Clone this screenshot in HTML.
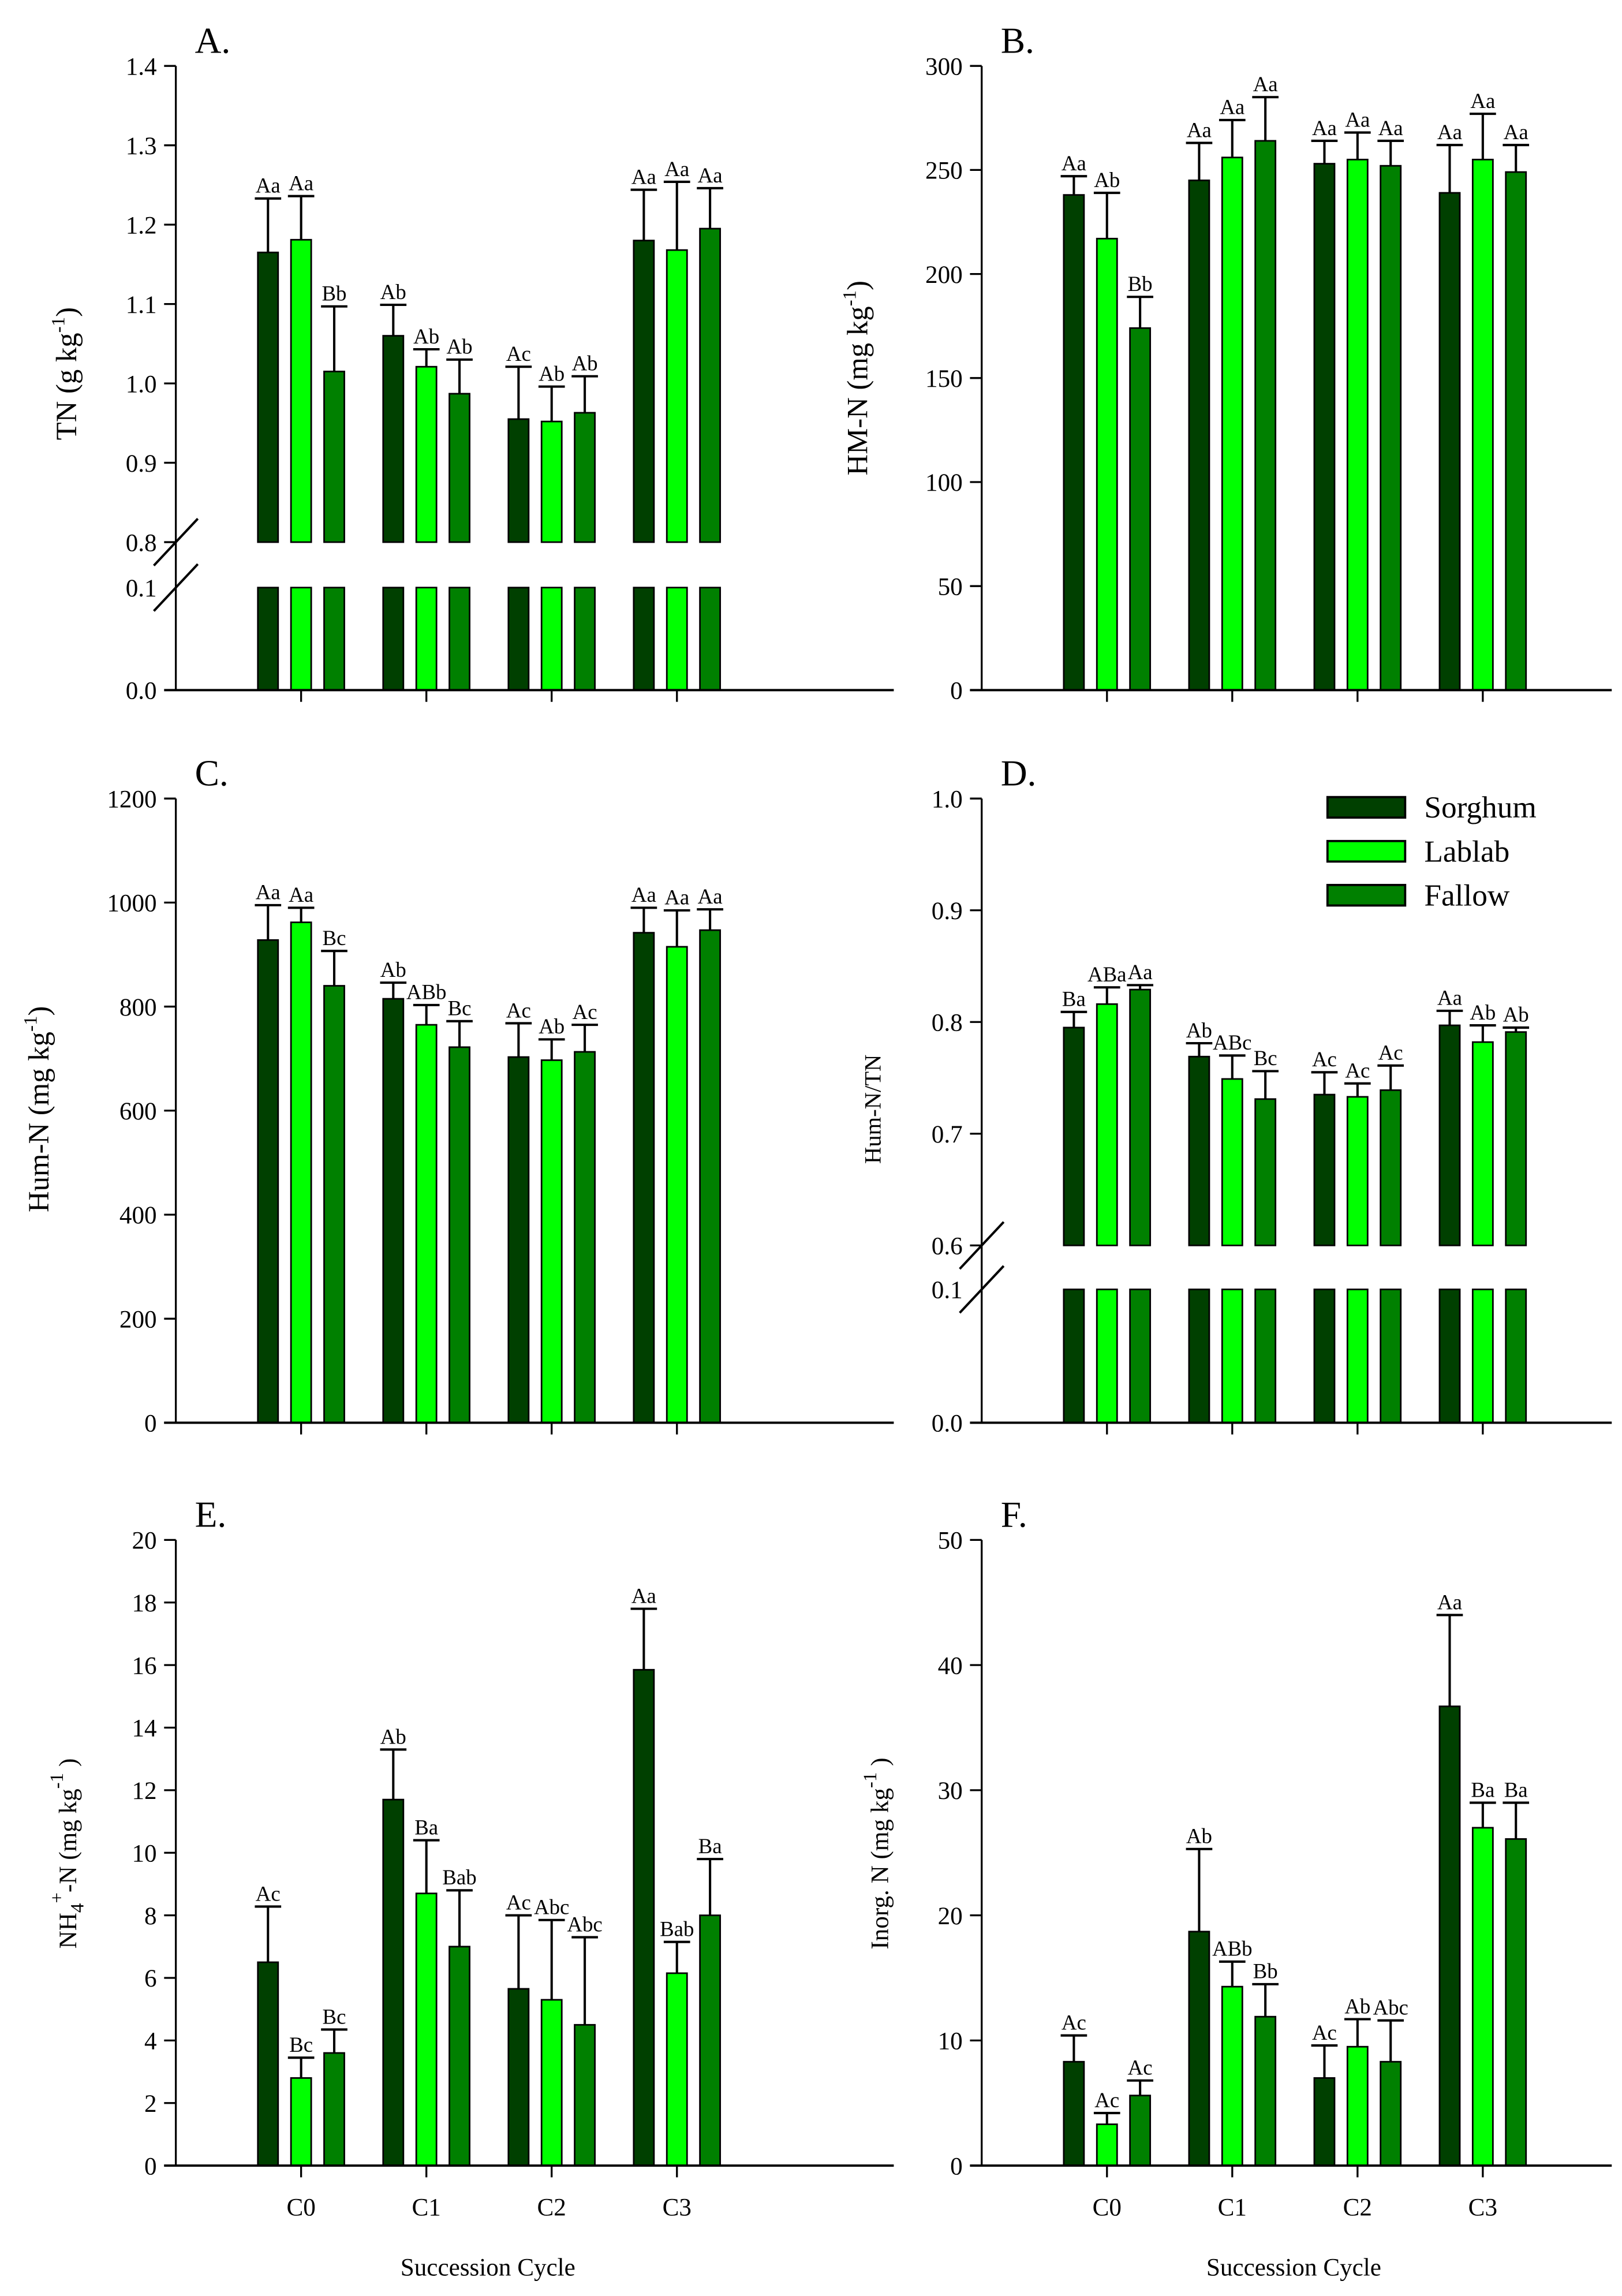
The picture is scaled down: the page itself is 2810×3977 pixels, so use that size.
<!DOCTYPE html>
<html><head><meta charset="utf-8"><style>
html,body{margin:0;padding:0;background:#fff;}
svg{display:block;font-family:"Liberation Serif",serif;}
</style></head><body>
<svg id="fig" width="2810" height="3977" viewBox="0 0 1107 1567" preserveAspectRatio="none" xmlns="http://www.w3.org/2000/svg"></svg>
<script>
const categories = ["C0","C1","C2","C3"];
const seriesNames = ["Sorghum","Lablab","Fallow"];
const colors = ["#004000","#00ff00","#008000"];

const tnVals = [[1.165,1.181,1.015],[1.060,1.021,0.987],[0.955,0.952,0.963],[1.180,1.168,1.195]];
const tnErr  = [[1.233,1.236,1.097],[1.099,1.043,1.030],[1.021,0.996,1.009],[1.244,1.254,1.246]];
const tnLab  = [["Aa","Aa","Bb"],["Ab","Ab","Ab"],["Ac","Ab","Ab"],["Aa","Aa","Aa"]];

const hmVals = [[238,217,174],[245,256,264],[253,255,252],[239,255,249]];
const hmErr  = [[247,239,189],[263,274,285],[264,268,264],[262,277,262]];
const hmLab  = [["Aa","Ab","Bb"],["Aa","Aa","Aa"],["Aa","Aa","Aa"],["Aa","Aa","Aa"]];

const humVals = [[928,962,840],[815,765,722],[703,697,713],[942,915,947]];
const humErr  = [[995,990,907],[846,803,772],[768,737,765],[990,985,987]];
const humLab  = [["Aa","Aa","Bc"],["Ab","ABb","Bc"],["Ac","Ab","Ac"],["Aa","Aa","Aa"]];

const ratVals = [[0.795,0.816,0.829],[0.769,0.749,0.731],[0.735,0.733,0.739],[0.797,0.782,0.791]];
const ratErr  = [[0.809,0.831,0.833],[0.781,0.770,0.756],[0.755,0.745,0.761],[0.810,0.797,0.795]];
const ratLab  = [["Ba","ABa","Aa"],["Ab","ABc","Bc"],["Ac","Ac","Ac"],["Aa","Ab","Ab"]];

const nhVals = [[6.5,2.8,3.6],[11.7,8.7,7.0],[5.65,5.3,4.5],[15.85,6.15,8.0]];
const nhErr  = [[8.28,3.45,4.35],[13.3,10.4,8.8],[8.0,7.85,7.3],[17.8,7.15,9.8]];
const nhLab  = [["Ac","Bc","Bc"],["Ab","Ba","Bab"],["Ac","Abc","Abc"],["Aa","Bab","Ba"]];

const inVals = [[8.3,3.3,5.6],[18.7,14.3,11.9],[7.0,9.5,8.3],[36.7,27.0,26.1]];
const inErr  = [[10.4,4.2,6.8],[25.3,16.3,14.5],[9.6,11.7,11.6],[44.0,29.0,29.0]];
const inLab  = [["Ac","Ac","Ac"],["Ab","ABb","Bb"],["Ac","Ab","Abc"],["Aa","Ba","Ba"]];

const tnTicks = ["0.8","0.9","1.0","1.1","1.2","1.3","1.4"];
const hmTicks = ["0","50","100","150","200","250","300"];
const humTicks = ["0","200","400","600","800","1000","1200"];
const ratTicks = ["0.6","0.7","0.8","0.9","1.0"];
const nhTicks = ["0","2","4","6","8","10","12","14","16","18","20"];
const inTicks = ["0","10","20","30","40","50"];

const NS="http://www.w3.org/2000/svg";
const svg=document.getElementById('fig');
function mk(tag,attrs,parent){const e=document.createElementNS(NS,tag);for(const k in attrs)e.setAttribute(k,attrs[k]);(parent||svg).appendChild(e);return e;}

function panel(cfg){
  const g=mk('g',{});
  
  
  const ax=cfg.ax, bot=cfg.bot;
  // y mapping
  function y(v){
    if(cfg.brk){
      if(v>=cfg.brk.u0) return cfg.brk.yu0-(v-cfg.brk.u0)/(cfg.brk.u1-cfg.brk.u0)*(cfg.brk.yu0-cfg.top);
      return bot-(v/cfg.brk.l1)*(bot-cfg.brk.yl1);
    }
    return bot-(v-cfg.min)/(cfg.max-cfg.min)*(bot-cfg.top);
  }
  const xc=i=>ax+85.5*(i+1);
  const off=[-22.6,0,22.6], bw=13.8;
  // bars
  for(let i=0;i<categories.length;i++){
    for(let s=0;s<3;s++){
      const v=cfg.vals[i][s], x=xc(i)+off[s]-bw/2;
      if(cfg.brk){
        const r1=mk('rect',{x:x,y:cfg.brk.yl1,width:bw,height:bot-cfg.brk.yl1,fill:colors[s],stroke:'#000','stroke-width':1.1},g);
        
        
        const r2=mk('rect',{x:x,y:y(v),width:bw,height:cfg.brk.yu0-y(v),fill:colors[s],stroke:'#000','stroke-width':1.1},g);
        
        
      } else {
        const r=mk('rect',{x:x,y:y(v),width:bw,height:bot-y(v),fill:colors[s],stroke:'#000','stroke-width':1.1},g);
        
        
      }
      const cx=xc(i)+off[s], ye=y(cfg.err[i][s]);
      const eb=mk('path',{d:`M${cx},${y(v)}V${ye}M${cx-9},${ye}H${cx+9}`,stroke:'#000','stroke-width':1.6,fill:'none'},g);
      
      
      const t=mk('text',{x:cx,y:ye-4,'text-anchor':'middle','font-size':14.5},g);
      t.textContent=cfg.labs[i][s];
      
      
    }
  }
  if(cfg.brk){ // white gap
    mk('rect',{x:ax+1,y:cfg.brk.yu0+0.6,width:cfg.right-ax,height:cfg.brk.yl1-cfg.brk.yu0-1.2,fill:'#fff'},g);
  }
  // axes
  const ya=mk('line',{x1:ax,y1:cfg.top,x2:ax,y2:bot,stroke:'#000','stroke-width':1.3},g);
  
  
  const xa=mk('line',{x1:ax-8,y1:bot,x2:cfg.right,y2:bot,stroke:'#000','stroke-width':1.6},g);
  
  
  for(let i=0;i<categories.length;i++){
    mk('line',{x1:xc(i),y1:bot,x2:xc(i),y2:bot+8,stroke:'#000','stroke-width':1.3},g);
    if(cfg.xlabels){
      const t=mk('text',{x:xc(i),y:bot+34,'text-anchor':'middle','font-size':17},g);
      t.textContent=categories[i];
      
      
    }
  }
  // y ticks
  cfg.ticks.forEach(lbl=>{
    const v=parseFloat(lbl), yy=y(v);
    mk('line',{x1:ax-8,y1:yy,x2:ax,y2:yy,stroke:'#000','stroke-width':1.3},g);
    const t=mk('text',{x:ax-13,y:yy+6,'text-anchor':'end','font-size':17},g);
    t.textContent=lbl;
    
    
  });
  if(cfg.brk){
    [["0.0",0],["0.1",0.1]].forEach(([lbl,v])=>{
      const t=mk('text',{x:ax-13,y:y(v)+6,'text-anchor':'end','font-size':17},g);
      t.textContent=lbl;
      
      
    });
    const a=cfg.brk.yu0, b=cfg.brk.yl1;
    mk('path',{d:`M${ax-15},${a+16}L${ax+15},${a-16}M${ax-15},${b+16}L${ax+15},${b-16}`,stroke:'#000','stroke-width':1.6},g);
  }
  // title
  const tt=mk('text',{transform:`translate(${cfg.tx},${cfg.ty}) rotate(-90)`,'text-anchor':'middle','font-size':cfg.tfs||20},g);
  tt.innerHTML=cfg.title;
  
  
  const pl=mk('text',{x:ax+13,y:cfg.top-9,'font-size':25},g);
  pl.textContent=cfg.letter;
  
  
  if(cfg.xlabels){
    const st=mk('text',{x:ax+213,y:bot+75,'text-anchor':'middle','font-size':17},g);
    st.textContent='Succession Cycle';
    
    
  }
}
const sup=s=>`<tspan dy="-8" font-size="13">${s}</tspan><tspan dy="8">`;
panel({name:'panel-a-tn',letter:'A.',ax:120,top:45,bot:471,right:610,vals:tnVals,err:tnErr,labs:tnLab,ticks:tnTicks,
  brk:{u0:0.8,u1:1.4,yu0:370,l1:0.1,yl1:401},tx:52,ty:255,title:'TN (g kg'+sup('-1')+')</tspan>'});
panel({name:'panel-b-hmn',letter:'B.',ax:670,top:45,bot:471,right:1100,min:0,max:300,vals:hmVals,err:hmErr,labs:hmLab,ticks:hmTicks,
  tx:592,ty:258,title:'HM-N (mg kg'+sup('-1')+')</tspan>'});
panel({name:'panel-c-humn',letter:'C.',ax:120,top:545,bot:971,right:610,min:0,max:1200,vals:humVals,err:humErr,labs:humLab,ticks:humTicks,
  tx:33,ty:757,title:'Hum-N (mg kg'+sup('-1')+')</tspan>'});
panel({name:'panel-d-ratio',letter:'D.',ax:670,top:545,bot:971,right:1100,vals:ratVals,err:ratErr,labs:ratLab,ticks:ratTicks,
  brk:{u0:0.6,u1:1.0,yu0:850,l1:0.1,yl1:880},tx:601,ty:757,tfs:16,title:'Hum-N/TN'});
panel({name:'panel-e-nh4',letter:'E.',ax:120,top:1051,bot:1478,right:610,min:0,max:20,vals:nhVals,err:nhErr,labs:nhLab,ticks:nhTicks,xlabels:true,
  tx:52,ty:1265,tfs:17,title:'NH<tspan dy="5" font-size="13">4</tspan><tspan dy="-14" font-size="13">+</tspan><tspan dy="9">-N (mg kg</tspan><tspan dy="-9" font-size="13">-1</tspan><tspan dy="9"> )</tspan>'});
panel({name:'panel-f-inorgn',letter:'F.',ax:670,top:1051,bot:1478,right:1100,min:0,max:50,vals:inVals,err:inErr,labs:inLab,ticks:inTicks,xlabels:true,
  tx:606,ty:1265,tfs:17,title:'Inorg. N (mg kg'+sup('-1')+' )</tspan>'});

// legend
const lg=mk('g',{});


seriesNames.forEach((n,i)=>{
  const yy=544+i*30;
  const r=mk('rect',{x:906,y:yy,width:53,height:14,fill:colors[i],stroke:'#000','stroke-width':1.5},lg);
  
  
  const t=mk('text',{x:972,y:yy+14,'font-size':21},lg);
  t.textContent=n;
  
  
});
</script>
</body></html>
